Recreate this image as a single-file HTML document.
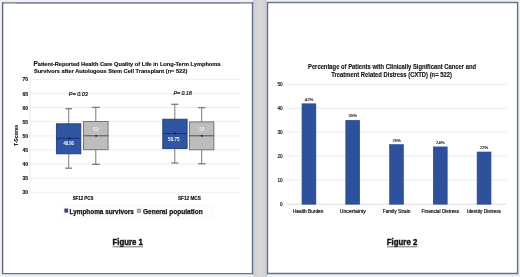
<!DOCTYPE html>
<html><head><meta charset="utf-8"><style>
html,body{margin:0;padding:0;background:#eef1f5;overflow:hidden}
svg{display:block;filter:blur(0.3px)}
text{font-family:"Liberation Sans",sans-serif}
</style></head><body>
<svg width="520" height="277" viewBox="0 0 520 277">
<rect x="0" y="0" width="520" height="277" fill="#eef1f5"/>
<!-- panels -->
<defs><linearGradient id="gap" x1="0" x2="1" y1="0" y2="0">
<stop offset="0" stop-color="#c6cede"/><stop offset="0.35" stop-color="#d8d6d6"/><stop offset="0.65" stop-color="#d8d6d6"/><stop offset="1" stop-color="#c6cede"/></linearGradient></defs>
<rect x="253" y="0" width="14" height="277" fill="url(#gap)"/>
<rect x="2" y="2" width="251" height="272" fill="#ffffff"/>
<rect x="267" y="2" width="251" height="272" fill="#ffffff"/>
<g stroke-width="1.4" fill="none">
<line x1="2" y1="2.9" x2="253.2" y2="2.9" stroke="#6a6e82"/>
<line x1="16" y1="2.9" x2="239.5" y2="2.9" stroke="#8587b0"/>
<line x1="2.6" y1="2.2" x2="2.6" y2="274.3" stroke="#62687e"/>
<line x1="252.5" y1="2.2" x2="252.5" y2="274.3" stroke="#666e86"/>
<line x1="2" y1="273.6" x2="253.2" y2="273.6" stroke="#68708a"/>
<line x1="267" y1="2.5" x2="518.2" y2="2.5" stroke="#6e768c"/>
<line x1="267.5" y1="2" x2="267.5" y2="274.2" stroke="#687088"/>
<line x1="517.6" y1="2" x2="517.6" y2="274.2" stroke="#687088"/>
<line x1="267" y1="273.5" x2="518.2" y2="273.5" stroke="#687088"/>
</g>

<!-- ============ FIGURE 1 ============ -->
<g font-weight="bold" fill="#111" stroke="#111" stroke-width="0.15">
<text x="33.5" y="66.4" font-size="5.67" textLength="187" lengthAdjust="spacingAndGlyphs"><tspan font-size="6.4">P</tspan>atient-Reported Health Care Quality of Life in Long-Term Lymphoma</text>
<text x="33.9" y="72.8" font-size="5.67" textLength="153.4" lengthAdjust="spacingAndGlyphs">Survivors after Autologous Stem Cell Transplant (n= 522)</text>
</g>
<!-- gridlines -->
<g stroke="#e9e9e9" stroke-width="0.8">
<line x1="30" y1="79.3" x2="30" y2="194"/>
<line x1="30" y1="79.3" x2="241" y2="79.3"/>
<line x1="30" y1="93.4" x2="241" y2="93.4"/>
<line x1="30" y1="107.5" x2="241" y2="107.5"/>
<line x1="30" y1="121.6" x2="241" y2="121.6"/>
<line x1="30" y1="135.8" x2="241" y2="135.8"/>
<line x1="30" y1="149.9" x2="241" y2="149.9"/>
<line x1="30" y1="164.0" x2="241" y2="164.0"/>
<line x1="30" y1="178.1" x2="241" y2="178.1"/>
<line x1="30" y1="192.3" x2="241" y2="192.3"/>
</g>
<g font-size="5" font-weight="bold" fill="#111" stroke="#111" stroke-width="0.12" text-anchor="end">
<text x="28" y="81.4">70</text>
<text x="28" y="95.5">65</text>
<text x="28" y="109.6">60</text>
<text x="28" y="123.7">55</text>
<text x="28" y="137.9">50</text>
<text x="28" y="152.0">45</text>
<text x="28" y="166.1">40</text>
<text x="28" y="180.2">35</text>
<text x="28" y="194.4">30</text>
</g>
<text transform="translate(17.7,135.5) rotate(-90)" font-size="5" font-weight="bold" fill="#111" stroke="#111" stroke-width="0.12" text-anchor="middle" textLength="21.2" lengthAdjust="spacingAndGlyphs">T-Scores</text>
<g font-size="5.8" font-style="italic" fill="#1a1a1a" stroke="#1a1a1a" stroke-width="0.22">
<text x="68.8" y="96.4" textLength="19" lengthAdjust="spacingAndGlyphs">P= 0.03</text>
<text x="173.4" y="94.9" textLength="18.6" lengthAdjust="spacingAndGlyphs">P= 0.16</text>
</g>
<!-- box group 1 -->
<g stroke="#7a7a7a" stroke-width="1">
<line x1="68.7" y1="108.7" x2="68.7" y2="123.5"/>
<line x1="65.5" y1="108.7" x2="72" y2="108.7" stroke-width="1.3"/>
<line x1="68.7" y1="154" x2="68.7" y2="168.2"/>
<line x1="65.3" y1="168.2" x2="72" y2="168.2" stroke-width="1.3"/>
<line x1="95.8" y1="107.4" x2="95.8" y2="121.3"/>
<line x1="91.8" y1="107.4" x2="99.8" y2="107.4" stroke-width="1.3"/>
<line x1="95.8" y1="149.5" x2="95.8" y2="164.3"/>
<line x1="92" y1="164.3" x2="99.7" y2="164.3" stroke-width="1.3"/>
</g>
<rect x="56.4" y="123.8" width="24.4" height="30" fill="#2f55a3" stroke="#1f3c7c" stroke-width="0.9"/>
<line x1="56.4" y1="138.3" x2="80.8" y2="138.3" stroke="#1a2f66" stroke-width="0.9"/>
<circle cx="69.3" cy="138.3" r="0.9" fill="#111"/>
<text x="68.6" y="145" font-size="4.8" fill="#fff" stroke="#fff" stroke-width="0.1" text-anchor="middle" textLength="10.4" lengthAdjust="spacingAndGlyphs">48.96</text>
<rect x="83.5" y="121.5" width="24.6" height="28.2" fill="#bdbdbd" stroke="#6e6e6e" stroke-width="0.9"/>
<line x1="83.5" y1="135.8" x2="108.1" y2="135.8" stroke="#444" stroke-width="0.9"/>
<circle cx="96.1" cy="135.8" r="0.9" fill="#111"/>
<text x="95.9" y="131.4" font-size="4.6" fill="#f0f0f0" stroke="#f0f0f0" stroke-width="0.1" text-anchor="middle">50</text>
<!-- box group 2 -->
<g stroke="#7a7a7a" stroke-width="1">
<line x1="174.8" y1="104.3" x2="174.8" y2="119.2"/>
<line x1="171.3" y1="104.3" x2="178.3" y2="104.3" stroke-width="1.3"/>
<line x1="174.8" y1="148.6" x2="174.8" y2="163"/>
<line x1="171.3" y1="163" x2="178.3" y2="163" stroke-width="1.3"/>
<line x1="201.7" y1="107.6" x2="201.7" y2="121.9"/>
<line x1="198" y1="107.6" x2="205.5" y2="107.6" stroke-width="1.3"/>
<line x1="201.7" y1="149.8" x2="201.7" y2="163.8"/>
<line x1="198" y1="163.8" x2="205.5" y2="163.8" stroke-width="1.3"/>
</g>
<rect x="162.8" y="119.2" width="24.3" height="29.4" fill="#2f55a3" stroke="#1f3c7c" stroke-width="0.9"/>
<line x1="162.8" y1="133.5" x2="187.1" y2="133.5" stroke="#1a2f66" stroke-width="0.9"/>
<circle cx="175" cy="133.5" r="0.9" fill="#111"/>
<text x="173.8" y="140.7" font-size="4.8" fill="#fff" stroke="#fff" stroke-width="0.1" text-anchor="middle" textLength="11.4" lengthAdjust="spacingAndGlyphs">50.75</text>
<rect x="189.4" y="121.9" width="24.5" height="27.9" fill="#bdbdbd" stroke="#6e6e6e" stroke-width="0.9"/>
<line x1="189.4" y1="135.8" x2="213.9" y2="135.8" stroke="#444" stroke-width="0.9"/>
<circle cx="201.8" cy="135.8" r="0.9" fill="#111"/>
<text x="201.8" y="131.4" font-size="4.6" fill="#f0f0f0" stroke="#f0f0f0" stroke-width="0.1" text-anchor="middle">50</text>
<!-- x labels -->
<g font-size="4.6" font-weight="bold" fill="#111" stroke="#111" stroke-width="0.15" text-anchor="middle">
<text x="83" y="200.4" textLength="20.6" lengthAdjust="spacingAndGlyphs">SF12 PCS</text>
<text x="189.4" y="200.4" textLength="22.8" lengthAdjust="spacingAndGlyphs">SF12 MCS</text>
</g>
<!-- legend -->
<rect x="62.8" y="205.5" width="149.6" height="12.2" fill="none" stroke="#f5f5f5" stroke-width="0.8"/>
<rect x="64.8" y="208.9" width="3" height="3.3" fill="#2a4a90" stroke="#1a2a55" stroke-width="0.6"/>
<rect x="137.4" y="209.1" width="3.1" height="3.3" fill="#b5b5b5" stroke="#6e6e6e" stroke-width="0.6"/>
<g font-size="7" font-weight="bold" fill="#111" stroke="#111" stroke-width="0.25">
<text x="69.6" y="213.8" textLength="64.3" lengthAdjust="spacingAndGlyphs">Lymphoma survivors</text>
<text x="142.9" y="213.8" textLength="59.8" lengthAdjust="spacingAndGlyphs">General population</text>
</g>
<!-- figure caption -->
<text x="112.5" y="245" font-size="8.2" font-weight="bold" fill="#111" stroke="#111" stroke-width="0.4" textLength="30.4" lengthAdjust="spacingAndGlyphs">Figure 1</text>
<line x1="112.5" y1="246.8" x2="143" y2="246.8" stroke="#333" stroke-width="0.7"/>

<!-- ============ FIGURE 2 ============ -->
<g font-weight="bold" fill="#111" stroke="#111" stroke-width="0.12" text-anchor="middle">
<text x="392" y="68.6" font-size="6.3" textLength="168" lengthAdjust="spacingAndGlyphs">Percentage of Patients with Clinically Significant Cancer and</text>
<text x="391.6" y="77" font-size="6.3" textLength="120.6" lengthAdjust="spacingAndGlyphs">Treatment Related Distress (CXTD) (n= 522)</text>
</g>
<g stroke="#e3e3e3" stroke-width="0.8">
<line x1="286.3" y1="84.4" x2="506.5" y2="84.4"/>
<line x1="286.3" y1="108.3" x2="506.5" y2="108.3"/>
<line x1="286.3" y1="132.2" x2="506.5" y2="132.2"/>
<line x1="286.3" y1="156.1" x2="506.5" y2="156.1"/>
<line x1="286.3" y1="180" x2="506.5" y2="180"/>
</g>
<line x1="286.3" y1="204.2" x2="506.5" y2="204.2" stroke="#d2d2d2" stroke-width="0.8"/>
<g font-size="4.6" fill="#1a1a1a" stroke="#1a1a1a" stroke-width="0.2" text-anchor="end">
<text x="282.5" y="86">50</text>
<text x="282.5" y="109.9">40</text>
<text x="282.5" y="133.8">30</text>
<text x="282.5" y="157.7">20</text>
<text x="282.5" y="181.6">10</text>
<text x="282.5" y="205.8">0</text>
</g>
<g fill="#2d519d" stroke="#27488e" stroke-width="0.6">
<rect x="302" y="103.8" width="13.9" height="100.4"/>
<rect x="345.8" y="120.3" width="13.9" height="83.9"/>
<rect x="389.6" y="144.6" width="13.9" height="59.6"/>
<rect x="433.3" y="146.9" width="13.9" height="57.3"/>
<rect x="477.1" y="152.0" width="13.9" height="52.2"/>
</g>
<g font-size="4.2" fill="#111" stroke="#111" stroke-width="0.12" text-anchor="middle">
<text x="309" y="100.8">42%</text>
<text x="352.8" y="117.3">35%</text>
<text x="396.6" y="141.6">25%</text>
<text x="440.3" y="143.9">24%</text>
<text x="484.1" y="149.0">22%</text>
</g>
<g font-size="4.75" fill="#111" stroke="#111" stroke-width="0.18" text-anchor="middle">
<text x="308.2" y="212.9">Health Burden</text>
<text x="352.8" y="212.9" textLength="26" lengthAdjust="spacingAndGlyphs">Uncertainty</text>
<text x="396.6" y="212.9">Family Strain</text>
<text x="440.3" y="212.9">Financial Distress</text>
<text x="484" y="212.9">Identity Distress</text>
</g>
<text x="386.8" y="245" font-size="8.2" font-weight="bold" fill="#111" stroke="#111" stroke-width="0.4" textLength="30.5" lengthAdjust="spacingAndGlyphs">Figure 2</text>
<line x1="386.8" y1="246.8" x2="417.3" y2="246.8" stroke="#333" stroke-width="0.7"/>
</svg>
</body></html>
